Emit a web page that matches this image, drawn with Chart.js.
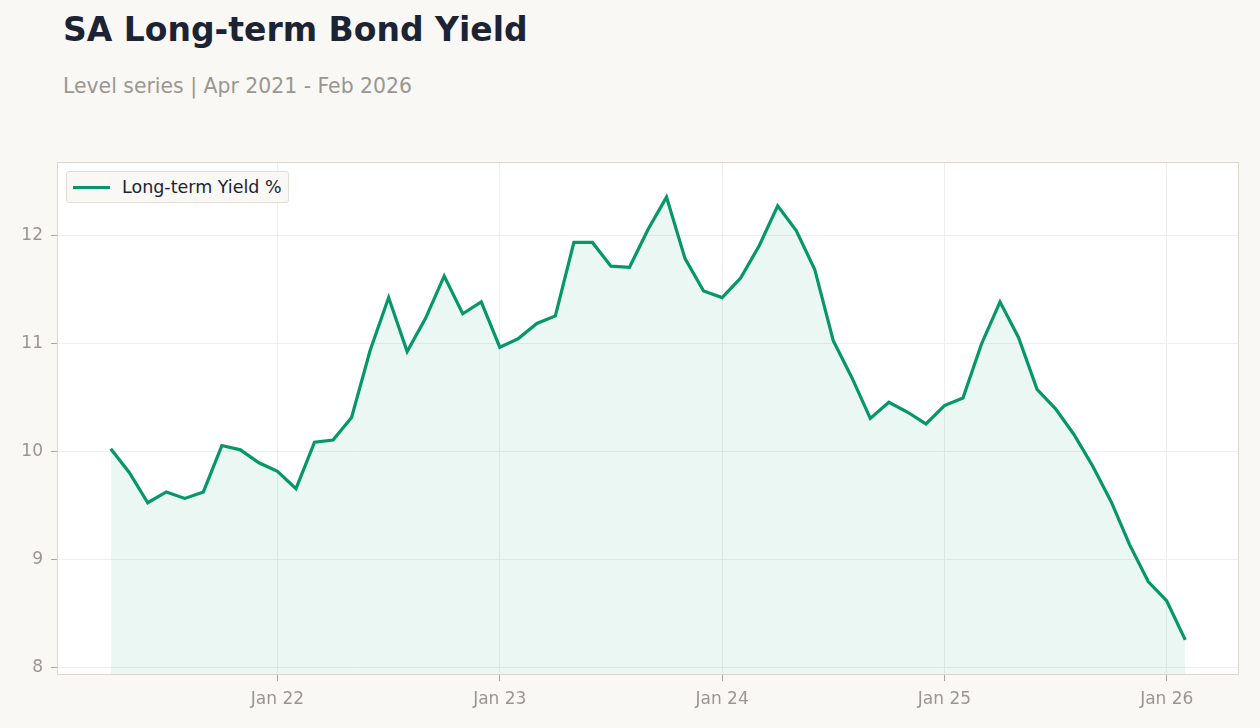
<!DOCTYPE html>
<html>
<head>
<meta charset="utf-8">
<script src="https://cdn.jsdelivr.net/npm/chart.js@4"></script>
<style>
  html, body { margin: 0; padding: 0; background: #f9f8f5; }
  body { width: 1260px; height: 728px; position: relative; overflow: hidden; font-family: 'DejaVu Sans', sans-serif; }
  #title { position: absolute; left: 63px; top: 10px; font-size: 33px; font-weight: bold; color: #1c2333; white-space: nowrap; }
  #subtitle { position: absolute; left: 63px; top: 74px; font-size: 20.4px; color: #9a9690; white-space: nowrap; }
  #wrap { position: absolute; left: 0; top: 0; width: 1260px; height: 728px; }
  #legend { position: absolute; left: 66px; top: 171px; width: 223px; height: 32px; background: #f9f8f5; border: 1px solid #e2ded7; border-radius: 3px; box-sizing: border-box; }
  #legend .swatch { position: absolute; left: 6px; top: 13.5px; width: 37px; height: 3px; background: #059669; }
  #legend .label { position: absolute; left: 55px; top: 5px; font-size: 17.5px; color: #1c2333; white-space: nowrap; }
</style>
</head>
<body>
<div id="title">SA Long-term Bond Yield</div>
<div id="subtitle">Level series | Apr 2021 - Feb 2026</div>
<div id="wrap"><canvas id="yieldChart" width="1260" height="728"></canvas></div>
<div id="legend"><div class="swatch"></div><div class="label">Long-term Yield %</div></div>
<script>
// Monthly observations, Apr 2021 - Feb 2026
const months = [
    '2021-04', '2021-05', '2021-06', '2021-07', '2021-08', '2021-09', '2021-10', '2021-11', '2021-12',
    '2022-01', '2022-02', '2022-03', '2022-04', '2022-05', '2022-06', '2022-07', '2022-08', '2022-09', '2022-10', '2022-11', '2022-12',
    '2023-01', '2023-02', '2023-03', '2023-04', '2023-05', '2023-06', '2023-07', '2023-08', '2023-09', '2023-10', '2023-11', '2023-12',
    '2024-01', '2024-02', '2024-03', '2024-04', '2024-05', '2024-06', '2024-07', '2024-08', '2024-09', '2024-10', '2024-11', '2024-12',
    '2025-01', '2025-02', '2025-03', '2025-04', '2025-05', '2025-06', '2025-07', '2025-08', '2025-09', '2025-10', '2025-11', '2025-12',
    '2026-01', '2026-02'
];

const yieldValues = [
    10.03, 9.81, 9.53, 9.63, 9.57, 9.63, 10.06, 10.02, 9.90,
    9.82, 9.66, 10.09, 10.11, 10.32, 10.94, 11.43, 10.93, 11.24, 11.63, 11.28, 11.39,
    10.97, 11.05, 11.19, 11.26, 11.94, 11.94, 11.72, 11.71, 12.06, 12.36, 11.79, 11.49,
    11.43, 11.61, 11.91, 12.28, 12.05, 11.69, 11.03, 10.69, 10.31, 10.46, 10.37, 10.26,
    10.43, 10.50, 11.00, 11.39, 11.06, 10.58, 10.40, 10.16, 9.87, 9.54, 9.14, 8.80,
    8.62, 8.26
];

const xTickMonths = ['2022-01', '2023-01', '2024-01', '2025-01', '2026-01'];
const xTickLabels = ['Jan 22', 'Jan 23', 'Jan 24', 'Jan 25', 'Jan 26'];
const yTicks = [8, 9, 10, 11, 12];

const points = yieldValues.map((v, i) => ({ x: i, y: v }));
const xTickPos = xTickMonths.map(m => months.indexOf(m));

// white plot area with a thin frame, like the reference
const plotFrame = {
    id: 'plotFrame',
    beforeDraw(chart) {
        const a = chart.chartArea, ctx = chart.ctx;
        ctx.save();
        ctx.fillStyle = '#ffffff';
        ctx.fillRect(a.left, a.top, a.right - a.left, a.bottom - a.top);
        ctx.restore();
    },
    afterDraw(chart) {
        const a = chart.chartArea, ctx = chart.ctx;
        ctx.save();
        ctx.strokeStyle = '#dcd7cf';
        ctx.lineWidth = 1;
        ctx.strokeRect(a.left + 0.5, a.top + 0.5, a.right - a.left - 1, a.bottom - a.top - 1);
        ctx.restore();
    }
};

function initYieldChart() {
    const ctx = document.getElementById('yieldChart').getContext('2d');

    new Chart(ctx, {
        type: 'line',
        data: {
            datasets: [{
                label: 'Long-term Yield %',
                data: points,
                borderColor: '#059669',
                backgroundColor: 'rgba(5, 150, 105, 0.08)',
                borderWidth: 3.2,
                pointRadius: 0,
                tension: 0,
                fill: 'start'
            }]
        },
        options: {
            responsive: false,
            animation: false,
            layout: {
                padding: { top: 162, right: 21, left: 0, bottom: 0 }
            },
            plugins: {
                legend: { display: false },
                tooltip: { enabled: false }
            },
            scales: {
                x: {
                    type: 'linear',
                    min: -2.9,
                    max: 60.9,
                    afterBuildTicks: function(scale) {
                        scale.ticks = xTickPos.map(p => ({ value: p }));
                    },
                    afterFit: function(scale) {
                        scale.height = 53;
                    },
                    ticks: {
                        autoSkip: false,
                        maxRotation: 0,
                        padding: 8,
                        color: '#9a9690',
                        font: { family: 'DejaVu Sans', size: 17 },
                        callback: function(value) {
                            return xTickLabels[xTickPos.indexOf(value)];
                        }
                    },
                    grid: {
                        color: '#efeeec',
                        tickColor: '#a9a5a0',
                        tickLength: 6
                    },
                    border: { display: false }
                },
                y: {
                    min: 7.935,
                    max: 12.685,
                    afterBuildTicks: function(scale) {
                        scale.ticks = yTicks.map(v => ({ value: v }));
                    },
                    afterFit: function(scale) {
                        scale.width = 57;
                    },
                    ticks: {
                        padding: 8,
                        color: '#9a9690',
                        font: { family: 'DejaVu Sans', size: 17 }
                    },
                    grid: {
                        color: '#efeeec',
                        tickColor: '#a9a5a0',
                        tickLength: 6
                    },
                    border: { display: false }
                }
            }
        },
        plugins: [plotFrame]
    });
}

initYieldChart();
</script>
</body>
</html>
